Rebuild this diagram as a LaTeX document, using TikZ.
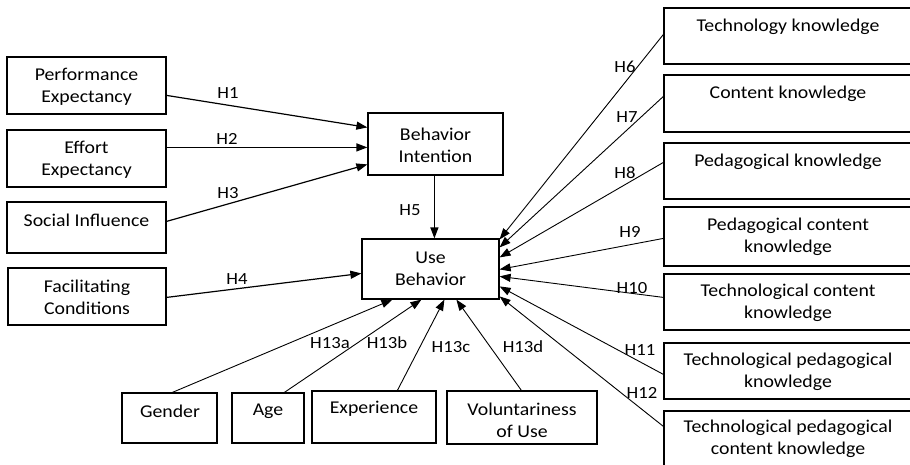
\documentclass[tikz,border=0pt]{standalone}
\usepackage{fontspec}
\setmainfont{Carlito}[FakeStretch=1.1]
\usetikzlibrary{arrows.meta,calc,fit}
\begin{document}
\begin{tikzpicture}[x=1pt,y=-1pt,
  box/.style={draw,line width=1.2pt,inner sep=0pt},
  lbl/.style={font=\fontsize{18}{22}\selectfont,align=center,inner sep=0pt},
  hyp/.style={font=\fontsize{17}{20}\selectfont,inner sep=0pt},
  link/.style={line width=1.2pt,-{Triangle[length=11pt,width=8pt]}},
  thinlink/.style={link,line width=0.9pt}]
\useasboundingbox (0,0) rectangle (910,464);
\clip (0,0) rectangle (910,464);
\fill[white] (0,0) rectangle (910,464);

% predictors on the left
\node[box,fit={(7,57)(166,114)}]  (pe) {};
\node[lbl] (pe-t) at (86.5,87) {Performance\\Expectancy};
\node[box,fit={(7,130)(166,187)}] (ee) {};
\node[lbl] (ee-t) at (86.5,160) {Effort\\Expectancy};
\node[box,fit={(7,202)(166,253)}] (si) {};
\node[lbl] (si-t) at (86.5,220) {Social Influence};
\node[box,fit={(8,268)(166,325)}] (fc) {};
\node[lbl] (fc-t) at (87,297) {Facilitating\\Conditions};

% central constructs
\node[box,fit={(368,113)(503,175)}] (bi) {};
\node[lbl] (bi-t) at (435.5,145) {Behavior\\Intention};
\node[box,fit={(362,239)(499,299)}] (ub) {};
\node[lbl] (ub-t) at (430.5,269) {Use\\Behavior};

% knowledge constructs on the right
\node[box,fit={(664,8)(912,64)}]    (tk) {};
\node[lbl] (tk-t) at (788,27) {Technology knowledge};
\node[box,fit={(664,75)(912,132)}]  (ck) {};
\node[lbl] (ck-t) at (788,94) {Content knowledge};
\node[box,fit={(664,143)(912,199)}] (pk) {};
\node[lbl] (pk-t) at (788,162) {Pedagogical knowledge};
\node[box,fit={(664,207)(912,266)}] (pck) {};
\node[lbl] (pck-t) at (788,237) {Pedagogical content\\knowledge};
\node[box,fit={(664,274)(912,330)}] (tck) {};
\node[lbl] (tck-t) at (788,303) {Technological content\\knowledge};
\node[box,fit={(664,343)(912,399)}] (tpk) {};
\node[lbl] (tpk-t) at (788,372) {Technological pedagogical\\knowledge};
\node[box,fit={(664,411)(912,480)}] (tpck) {};
\node[lbl] (tpck-t) at (788,439) {Technological pedagogical\\content knowledge};

% moderators at the bottom
\node[box,fit={(122,393)(217,443)}] (gen) {};
\node[lbl] (gen-t) at (170,411) {Gender};
\node[box,fit={(232,393)(304,443)}] (age) {};
\node[lbl] (age-t) at (268,411) {Age};
\node[box,fit={(312,391)(436,443)}] (exp) {};
\node[lbl] (exp-t) at (374,409) {Experience};
\node[box,fit={(447,391)(597,444)}] (vol) {};
\node[lbl] (vol-t) at (522,420) {Voluntariness\\of Use};

% hypotheses H1--H5
\draw[link] ($(pe.north east)+(0,39)$) -- ($(bi.north west)+(0,15)$);
\draw[link] ($(ee.north east)+(0,18)$) -- ($(bi.north west)+(0,35)$);
\draw[link] ($(si.north east)+(0,20)$) -- ($(bi.north west)+(0,52)$);
\draw[link] ($(fc.north east)+(0,30)$) -- ($(ub.north west)+(0,35)$);
\draw[link] ($(bi.south west)+(67,0)$) -- ($(ub.north west)+(73,0)$);
\node[hyp] (h1) at (228,93) {H1};
\node[hyp] (h2) at (227,139) {H2};
\node[hyp] (h3) at (228,193) {H3};
\node[hyp] (h4) at (237,279) {H4};
\node[hyp] (h5) at (410,210) {H5};

% hypotheses H6--H12
\draw[thinlink] ($(tk.north west)+(0,27)$)   -- ($(ub.north east)+(0,1)$);
\draw[thinlink] ($(ck.north west)+(0,22)$)   -- ($(ub.north east)+(0,9)$);
\draw[thinlink] ($(pk.north west)+(0,20)$)   -- ($(ub.north east)+(0,19)$);
\draw[thinlink] ($(pck.north west)+(0,32)$)  -- ($(ub.north east)+(0,31)$);
\draw[thinlink] ($(tck.north west)+(0,24)$)  -- ($(ub.north east)+(0,38)$);
\draw[thinlink] ($(tpk.north west)+(0,32)$)  -- ($(ub.north east)+(0,48)$);
\draw[thinlink] ($(tpck.north west)+(0,16)$) -- ($(ub.north east)+(0,58)$);
\node[hyp] (h6)  at (625,67)  {H6};
\node[hyp] (h7)  at (627,117) {H7};
\node[hyp] (h8)  at (625,173) {H8};
\node[hyp] (h9)  at (630,232) {H9};
\node[hyp] (h10) at (632,288) {H10};
\node[hyp] (h11) at (640,350) {H11};
\node[hyp] (h12) at (642,393) {H12};

% moderating hypotheses H13a--H13d
\draw[thinlink] ($(gen.north west)+(51,0)$) -- ($(ub.south west)+(31,0)$);
\draw[thinlink] ($(age.north west)+(53,0)$) -- ($(ub.south west)+(60,0)$);
\draw[thinlink] ($(exp.north west)+(86,0)$) -- ($(ub.south west)+(83,0)$);
\draw[thinlink] ($(vol.north west)+(75,0)$) -- ($(ub.south west)+(95,0)$);
\node[hyp] (h13a) at (330,343) {H13a};
\node[hyp] (h13b) at (387,343) {H13b};
\node[hyp] (h13c) at (451,347) {H13c};
\node[hyp] (h13d) at (523,347) {H13d};
\end{tikzpicture}
\end{document}
